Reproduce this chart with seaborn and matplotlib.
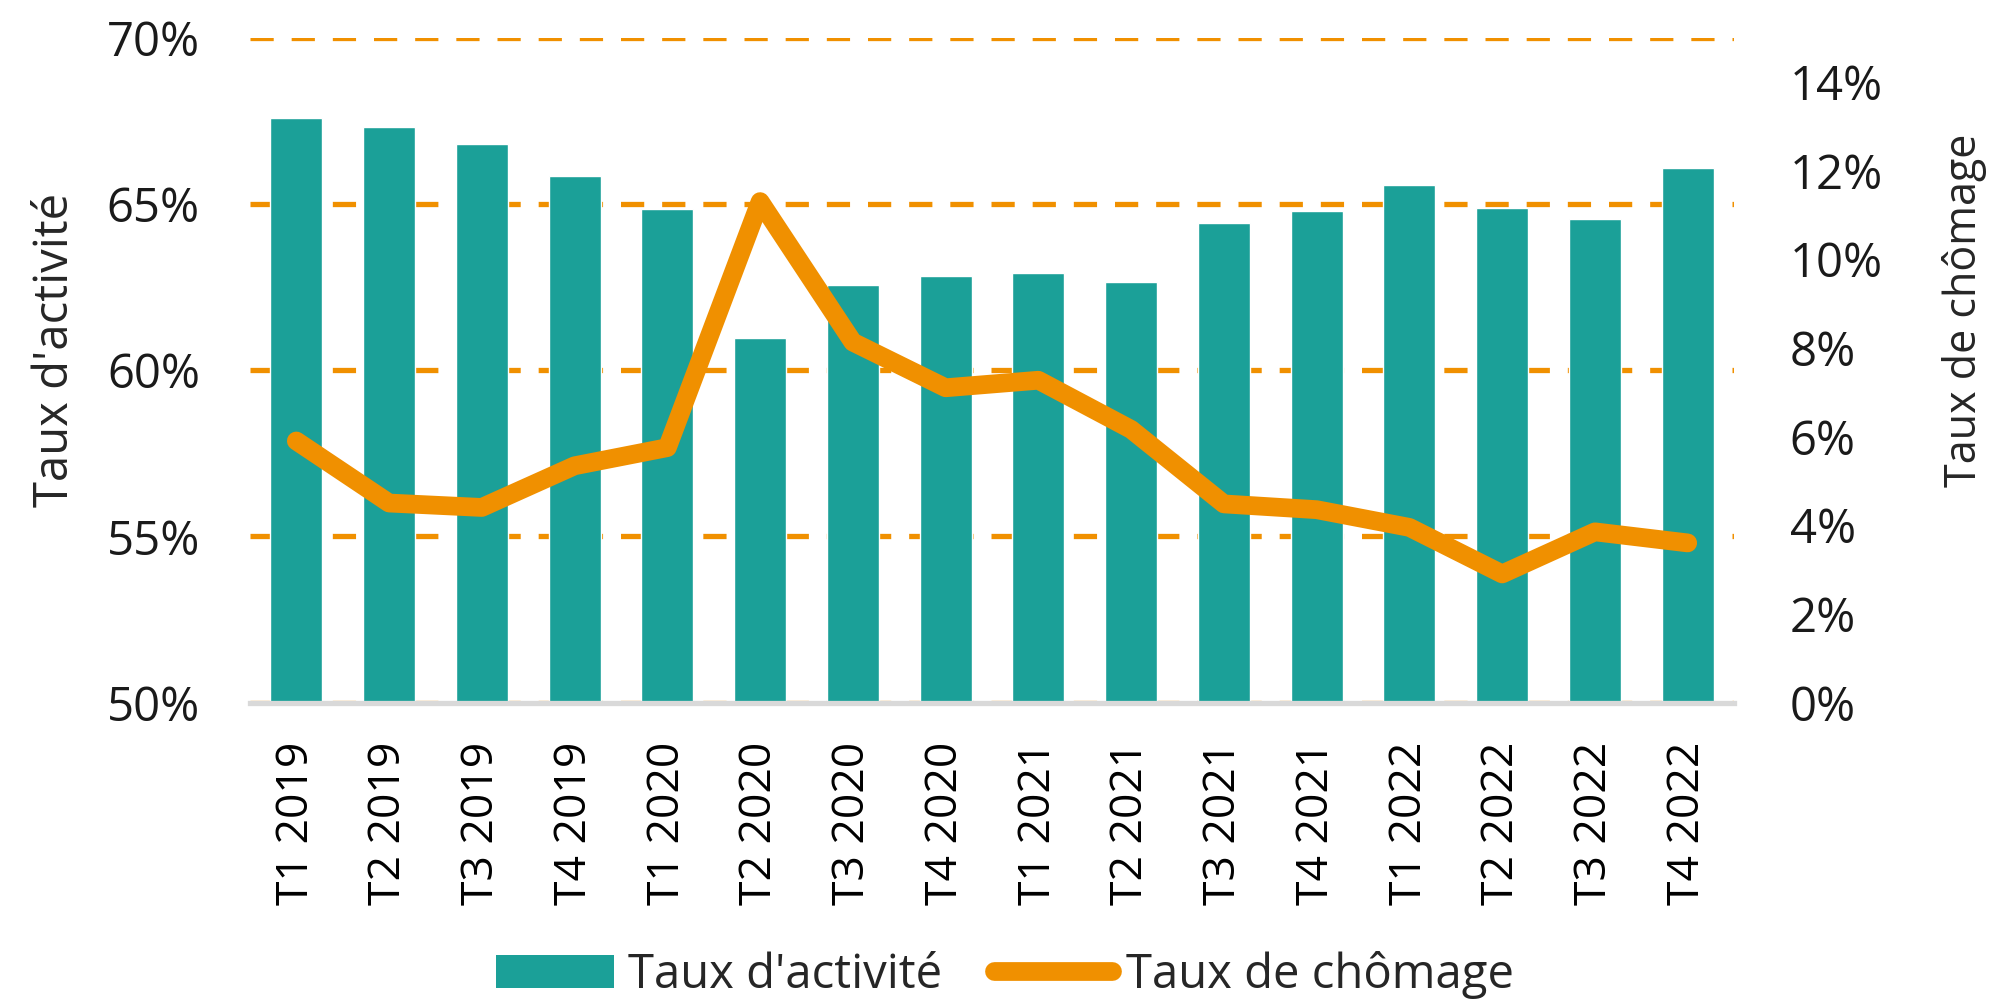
import numpy as np
import matplotlib
matplotlib.use("Agg")
import matplotlib.pyplot as plt
from matplotlib.ticker import PercentFormatter
from matplotlib.patches import Patch
from matplotlib.lines import Line2D
import seaborn as sns

trimestres = ["T1 2019", "T2 2019", "T3 2019", "T4 2019",
              "T1 2020", "T2 2020", "T3 2020", "T4 2020",
              "T1 2021", "T2 2021", "T3 2021", "T4 2021",
              "T1 2022", "T2 2022", "T3 2022", "T4 2022"]
activite = [67.58, 67.31, 66.8, 65.84, 64.85, 60.97, 62.56, 62.83,
            62.92, 62.65, 64.42, 64.78, 65.57, 64.86, 64.53, 66.08]
chomage = [5.9, 4.5, 4.4, 5.34, 5.75, 11.3, 8.13, 7.1,
           7.27, 6.16, 4.48, 4.35, 3.95, 2.9, 3.85, 3.6]

teal = "#1ba098"
orange = "#f09000"

sns.set_style("white")
plt.rcParams["font.family"] = ["Open Sans", "DejaVu Sans"]

fig = plt.figure(figsize=(19.9, 10.02), dpi=100)
ax = fig.add_axes([0.1256, 0.2989, 0.7458, 0.6636])

sns.barplot(x=trimestres, y=activite, color=teal, saturation=1, width=0.56, ax=ax)
ax.set_ylim(50, 70)
ax.set_yticks([50, 55, 60, 65, 70])
ax.yaxis.set_major_formatter(PercentFormatter(decimals=0))
ax.set_axisbelow(True)
ax.yaxis.grid(True, color=orange, lw=3.8, linestyle=(0, (4.4, 3.4)), dash_capstyle="butt")
ax.set_xlim(-0.5, 15.5)

for s in ["top", "left", "right"]:
    ax.spines[s].set_visible(False)
ax.spines["bottom"].set_color("#d9d9d9")
ax.spines["bottom"].set_linewidth(3.8)

ax.tick_params(axis="y", length=0, pad=36, labelsize=34, labelcolor="#1a1a1a")
ax.tick_params(axis="x", length=0, pad=28, labelsize=32, labelrotation=90, labelcolor="black")
ax.set_xlabel("")
ax.set_ylabel("Taux d'activité", fontsize=34)
ax.yaxis.set_label_coords(-0.115, 0.53)

ax2 = ax.twinx()
sns.lineplot(x=np.arange(len(chomage)), y=chomage, color=orange, lw=13.5,
             solid_capstyle="round", solid_joinstyle="round", ax=ax2)
ax2.set_ylim(0, 15)
ax2.set_yticks(np.arange(0, 15, 2))
ax2.yaxis.set_major_formatter(PercentFormatter(decimals=0))
ax2.tick_params(axis="y", length=0, pad=40, labelsize=34, labelcolor="#1a1a1a")
for s in ax2.spines.values():
    s.set_visible(False)
ax2.set_ylabel("Taux de chômage", fontsize=31)
ax2.yaxis.set_label_coords(1.14, 0.59)
ax2.set_xlim(-0.5, 15.5)

handles = [Patch(facecolor=teal, edgecolor="none"),
           Line2D([0], [0], color=orange, lw=13.5, solid_capstyle="round")]
fig.legend(handles, ["Taux d'activité", "Taux de chômage"], loc="center",
           bbox_to_anchor=(0.505, 0.027), ncol=2, frameon=False,
           prop={"size": 34},
           handlelength=2.5, handleheight=0.7, handletextpad=0.3, columnspacing=1.1)

fig.savefig("out.png", dpi=100)
